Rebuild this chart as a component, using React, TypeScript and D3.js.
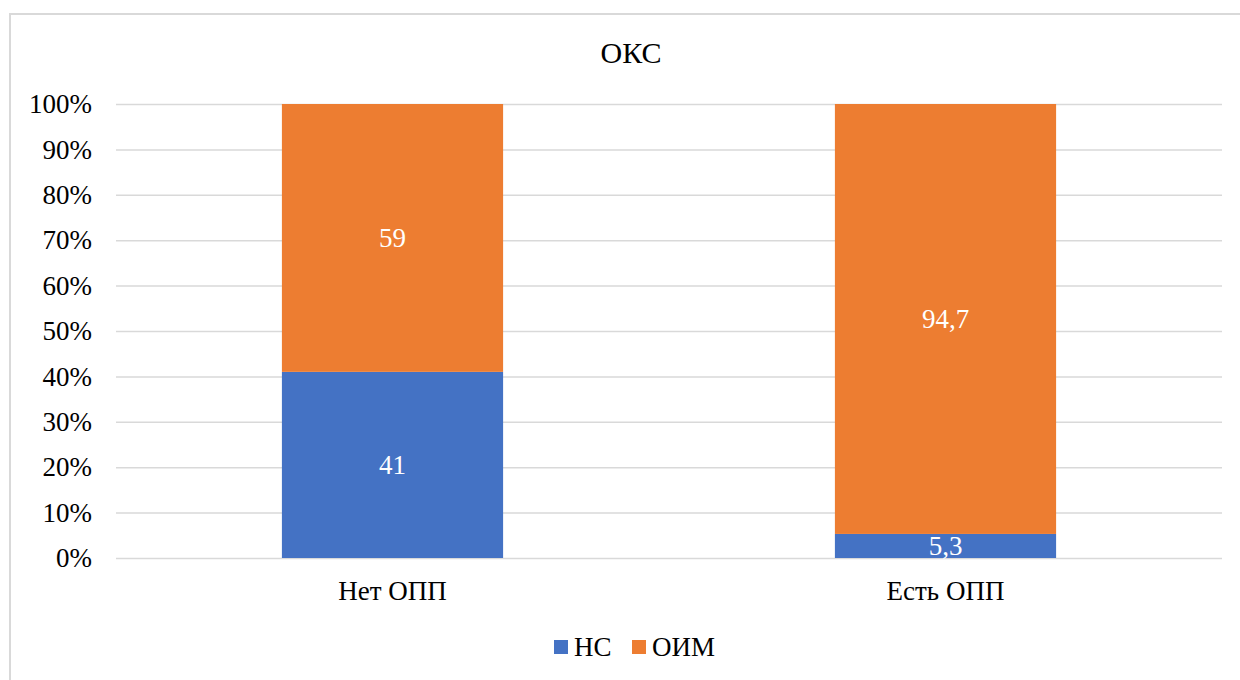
import { useEffect, useRef } from "react";
import * as d3 from "d3";

const categories = ["Нет ОПП", "Есть ОПП"];
const seriesNames = ["НС", "ОИМ"];
const nsValues = [41, 5.3];
const oimValues = [59, 94.7];
const tickValues = [0, 10, 20, 30, 40, 50, 60, 70, 80, 90, 100];
const colors = ["#4472c4", "#ed7d31"];

const width = 1240;
const height = 680;
const marginLeft = 116;
const marginRight = 18;
const plotTop = 104;
const plotBottom = 558;
const font = '"Liberation Serif", "DejaVu Serif", serif';
const txt = { fontFamily: font };

const fmt = (v: number) => String(v).replace(".", ",");

const App = () => {
  const gy = useRef<SVGGElement | null>(null);

  const x = d3
    .scaleBand()
    .domain(categories)
    .range([marginLeft, width - marginRight])
    .paddingInner(0.6)
    .paddingOuter(0.3);

  const y = d3.scaleLinear().domain([0, 100]).range([plotBottom, plotTop]);

  const rows = categories.map((c, i) => ({ cat: c, НС: nsValues[i], ОИМ: oimValues[i] }));
  const stacked = d3.stack<any>().keys(seriesNames)(rows);

  useEffect(() => {
    if (!gy.current) return;
    const g = d3.select(gy.current);
    g.selectAll("*").remove();
    g.call(
      d3
        .axisLeft(y)
        .tickValues(tickValues)
        .tickSize(-(width - marginRight - marginLeft))
        .tickFormat((d) => `${d}%`)
    );
    g.attr("font-family", null);
    g.select(".domain").remove();
    g.selectAll(".tick line").attr("stroke", "#d9d9d9").attr("stroke-width", 1.5);
    g.selectAll(".tick text")
      .attr("x", -24)
      .style("font-family", font)
      .style("font-size", "27px")
      .attr("fill", "#000");
  }, []);

  return (
    <svg width={width} height={height} style={{ position: "absolute", left: 0, top: 0 }}>
      <rect x={0} y={0} width={width} height={height} fill="#fff" />
      <rect x={10} y={14} width={width + 20} height={height + 20} fill="none" stroke="#d9d9d9" strokeWidth={2} />
      <text x={631} y={63} textAnchor="middle" style={txt} fontSize={30}>
        ОКС
      </text>
      <g ref={gy} transform={`translate(${marginLeft},0)`} />
      {stacked.map((s, si) => (
        <g key={s.key}>
          {s.map((d, i) => {
            const x0 = x(categories[i]) as number;
            const yTop = y(d[1]);
            const yBot = y(d[0]);
            const v = d[1] - d[0];
            return (
              <g key={i}>
                <rect x={x0} y={yTop} width={x.bandwidth()} height={yBot - yTop} fill={colors[si]} />
                <text
                  x={x0 + x.bandwidth() / 2}
                  y={(yTop + yBot) / 2}
                  dy="0.35em"
                  textAnchor="middle"
                  style={txt}
                  fontSize={27}
                  fill="#fff"
                >
                  {fmt(Math.round(v * 10) / 10)}
                </text>
              </g>
            );
          })}
        </g>
      ))}
      {categories.map((c) => (
        <text
          key={c}
          x={(x(c) as number) + x.bandwidth() / 2}
          y={600}
          textAnchor="middle"
          style={txt}
          fontSize={27}
        >
          {c}
        </text>
      ))}
      {seriesNames.map((n, i) => {
        const lx = [554, 632][i];
        return (
          <g key={n}>
            <rect x={lx} y={640} width={14} height={14} fill={colors[i]} />
            <text x={lx + 20} y={656} style={txt} fontSize={27}>
              {n}
            </text>
          </g>
        );
      })}
    </svg>
  );
};

export default App;
